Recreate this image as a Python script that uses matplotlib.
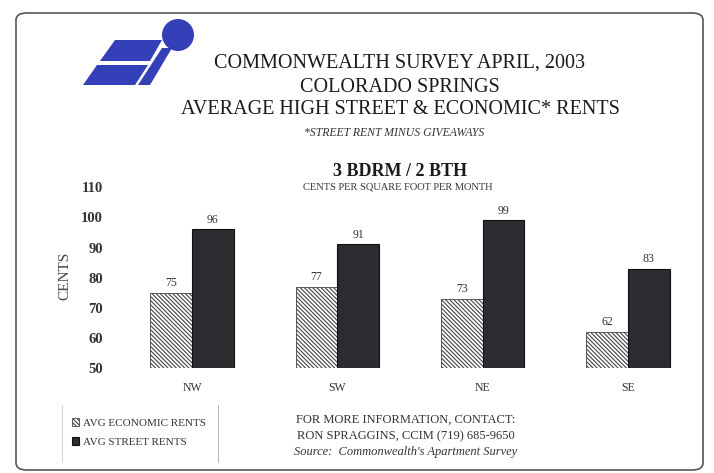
import numpy as np
import matplotlib.pyplot as plt
from matplotlib.patches import FancyBboxPatch, Polygon, Ellipse

plt.rcParams['font.family'] = ['Liberation Serif', 'DejaVu Serif']

# data
regions = ['NW', 'SW', 'NE', 'SE']
economic_rents = [75, 77, 73, 62]
street_rents = [96, 91, 99, 83]

W, H = 714, 473


def fx(px):
    return px / W


def fy(py):
    return 1 - py / H


fig = plt.figure(figsize=(W / 100, H / 100), dpi=100)
fig.patch.set_facecolor('white')

# rounded page border
border = FancyBboxPatch((fx(16), fy(470)), fx(703) - fx(16), fy(13) - fy(470),
                        boxstyle='round,pad=0,rounding_size=0.015',
                        transform=fig.transFigure, fill=False,
                        edgecolor='#555555', linewidth=1.2)
fig.patches.append(border)

# logo: split parallelogram plus a slanted "i"
blue = '#3340b8'
upper = Polygon([(fx(100), fy(61)), (fx(115), fy(40)), (fx(162), fy(40)), (fx(150), fy(61))],
                closed=True, transform=fig.transFigure, facecolor=blue, edgecolor='none')
lower = Polygon([(fx(83), fy(85)), (fx(97), fy(65)), (fx(148), fy(65)), (fx(135), fy(85))],
                closed=True, transform=fig.transFigure, facecolor=blue, edgecolor='none')
stem = Polygon([(fx(138), fy(85)), (fx(162), fy(48)), (fx(172), fy(48)), (fx(150), fy(85))],
               closed=True, transform=fig.transFigure, facecolor=blue, edgecolor='none')
dot = Ellipse((fx(178), fy(35)), 32 / W, 32 / H, transform=fig.transFigure,
              facecolor=blue, edgecolor='none')
for p in (upper, lower, stem, dot):
    fig.patches.append(p)

# titles
tc = '#1a1a1a'
fig.text(fx(400), fy(63), 'COMMONWEALTH SURVEY APRIL, 2003', ha='center', va='center',
         fontsize=14.5, color=tc)
fig.text(fx(400), fy(87), 'COLORADO SPRINGS', ha='center', va='center',
         fontsize=14.5, color=tc)
fig.text(fx(400), fy(109), 'AVERAGE HIGH STREET & ECONOMIC* RENTS', ha='center', va='center',
         fontsize=14.5, color=tc)
fig.text(fx(394), fy(133), '*STREET RENT MINUS GIVEAWAYS', ha='center', va='center',
         fontsize=8.5, style='italic', color='#333333')
fig.text(fx(400), fy(171), '3 BDRM / 2 BTH', ha='center', va='center',
         fontsize=13, fontweight='bold', color=tc)
fig.text(fx(398), fy(187), 'CENTS PER SQUARE FOOT PER MONTH', ha='center', va='center',
         fontsize=7.5, color='#333333')

# chart
ax = fig.add_axes([fx(119.4), fy(368.3), fx(700.6) - fx(119.4), fy(187.1) - fy(368.3)])
x = np.arange(len(regions))
bw = 0.286
plt.rcParams['hatch.color'] = '#333333'
plt.rcParams['hatch.linewidth'] = 0.8
eco = ax.bar(x - bw / 2, np.array(economic_rents) - 50, bw, bottom=50,
             facecolor='white', edgecolor='#444444', hatch='\\' * 8, linewidth=0.6,
             label='AVG ECONOMIC RENTS')
st = ax.bar(x + bw / 2, np.array(street_rents) - 50, bw, bottom=50,
            facecolor='#2c2c30', edgecolor='#111111', linewidth=0.8,
            label='AVG STREET RENTS')

for xi, v in zip(x, economic_rents):
    ax.text(xi - bw / 2, v + 1.2, str(v), ha='center', va='bottom', fontsize=8.5, color='#333333')
for xi, v in zip(x, street_rents):
    ax.text(xi + bw / 2, v + 1.2, str(v), ha='center', va='bottom', fontsize=8.5, color='#333333')

ax.set_xlim(-0.5, 3.5)
ax.set_ylim(50, 110)
ax.set_yticks(range(50, 111, 10))
ax.set_yticklabels([str(t) for t in range(50, 111, 10)], fontsize=10.5, fontweight='bold', color='#333333')
ax.set_xticks(x)
ax.set_xticklabels(regions, fontsize=8.5, color='#333333')
ax.tick_params(length=0, axis='y', pad=12)
ax.tick_params(length=0, axis='x', pad=10)
for s in ax.spines.values():
    s.set_visible(False)

fig.text(fx(65), fy(276), 'CENTS', rotation=90, ha='center', va='center',
         fontsize=11, color='#444444')

# legend block
leg = fig.legend(handles=[eco, st], loc='upper left', bbox_to_anchor=(fx(66), fy(412)),
                 frameon=False, fontsize=8, handlelength=0.7, handleheight=0.8,
                 handletextpad=0.3, labelspacing=0.8, borderpad=0)
for t in leg.get_texts():
    t.set_color('#333333')
fig.add_artist(plt.Line2D([fx(218), fx(218)], [fy(405), fy(462)], color='#aaaaaa', linewidth=0.6))
fig.add_artist(plt.Line2D([fx(62), fx(62)], [fy(405), fy(462)], color='#cccccc', linewidth=0.6))

# contact footer
fig.text(fx(406), fy(420), 'FOR MORE INFORMATION, CONTACT:', ha='center', va='center',
         fontsize=9, color='#333333')
fig.text(fx(406), fy(436), 'RON SPRAGGINS, CCIM (719) 685-9650', ha='center', va='center',
         fontsize=9, color='#333333')
fig.text(fx(406), fy(452), "Source:  Commonwealth's Apartment Survey", ha='center', va='center',
         fontsize=9, style='italic', color='#333333')

fig.savefig('out.png', dpi=100)
